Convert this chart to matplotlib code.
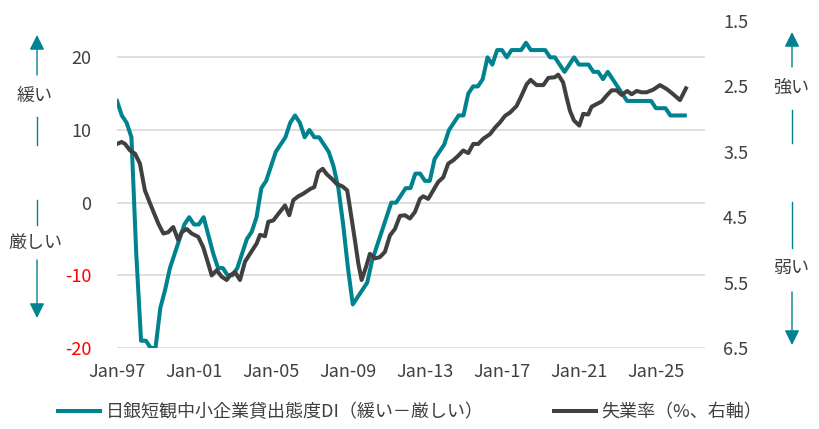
import matplotlib
matplotlib.use("Agg")
import matplotlib.pyplot as plt
import numpy as np
from matplotlib.lines import Line2D

plt.rcParams["font.family"] = ["Noto Sans CJK JP", "DejaVu Sans"]
plt.rcParams["font.size"] = 13

TEAL, GREY, TXT = "#00838f", "#404040", "#404040"

# Tankan small-firm lending attitude DI, quarterly from Q1-1997
di_start = 1997.0
di_values = [14, 12, 11, 9, -7, -19, -19, -20, -20, -14.5, -12, -9, -7, -5, -3, -2,
             -3, -3, -2, -4.5, -7, -9, -9, -10, -10, -9, -7, -5, -4, -2, 2, 3,
             5, 7, 8, 9, 11, 12, 11, 9, 10, 9, 9, 8, 7, 5, 2, -3,
             -9, -14, -13, -12, -11, -8, -6, -4, -2, 0, 0, 1, 2, 2, 4, 4,
             3, 3, 6, 7, 8, 10, 11, 12, 12, 15, 16, 16, 17, 20, 19, 21,
             21, 20, 21, 21, 21, 22, 21, 21, 21, 21, 20, 20, 19,
             18, 19, 20, 19, 19, 19, 18, 18, 17, 18, 17, 16, 15, 14, 14, 14,
             14, 14, 14, 13, 13, 13, 12, 12, 12, 12]

# unemployment rate (%), read at turning points
ur_dates = [1997.00, 1997.24, 1997.42, 1997.68, 1997.94, 1998.19, 1998.45, 1998.80,
            1999.15, 1999.41, 1999.66, 1999.92, 2000.18, 2000.36, 2000.62, 2000.88,
            2001.22, 2001.48, 2001.74, 2001.92, 2002.18, 2002.44, 2002.70, 2002.87,
            2003.13, 2003.39, 2003.65, 2003.91, 2004.26, 2004.43, 2004.69, 2004.86,
            2005.12, 2005.38, 2005.73, 2005.95, 2006.16, 2006.42, 2006.68, 2007.03,
            2007.25, 2007.46, 2007.69, 2007.89, 2008.15, 2008.41, 2008.72, 2008.96,
            2009.10, 2009.36, 2009.54, 2009.71, 2009.94, 2010.14, 2010.40, 2010.66,
            2010.92, 2011.18, 2011.44, 2011.70, 2011.96, 2012.22, 2012.48, 2012.74,
            2012.91, 2013.17, 2013.43, 2013.69, 2013.95, 2014.21, 2014.47, 2014.73,
            2014.99, 2015.25, 2015.51, 2015.77, 2016.03, 2016.38, 2016.64, 2016.90,
            2017.16, 2017.42, 2017.76, 2018.02, 2018.28, 2018.49, 2018.80, 2019.15,
            2019.41, 2019.75, 2019.92, 2020.18, 2020.36, 2020.53, 2020.74, 2021.02,
            2021.22, 2021.48, 2021.66, 2021.92, 2022.18, 2022.44, 2022.70, 2022.96,
            2023.22, 2023.51, 2023.74, 2024.00, 2024.25, 2024.52, 2024.86, 2025.21,
            2025.56, 2025.90, 2026.25, 2026.56]
ur_values = [3.38, 3.35, 3.38, 3.48, 3.53, 3.68, 4.09, 4.35,
             4.60, 4.75, 4.73, 4.65, 4.85, 4.73, 4.68, 4.75,
             4.80, 4.96, 5.21, 5.39, 5.31, 5.41, 5.46, 5.39,
             5.34, 5.46, 5.18, 5.06, 4.90, 4.77, 4.79, 4.57,
             4.55, 4.45, 4.32, 4.47, 4.24, 4.18, 4.14, 4.07,
             4.04, 3.81, 3.76, 3.84, 3.91, 3.99, 4.03, 4.09,
             4.35, 4.85, 5.21, 5.46, 5.26, 5.06, 5.13, 5.11,
             5.03, 4.78, 4.68, 4.48, 4.47, 4.52, 4.42, 4.22,
             4.18, 4.22, 4.09, 3.96, 3.89, 3.68, 3.63, 3.56,
             3.48, 3.52, 3.38, 3.38, 3.30, 3.23, 3.13, 3.05,
             2.95, 2.90, 2.80, 2.64, 2.47, 2.40, 2.48, 2.48,
             2.37, 2.36, 2.32, 2.44, 2.67, 2.87, 3.02, 3.10,
             2.92, 2.93, 2.81, 2.77, 2.73, 2.64, 2.56, 2.56,
             2.63, 2.57, 2.62, 2.57, 2.59, 2.59, 2.55, 2.48,
             2.54, 2.62, 2.71, 2.53]

tick_years = [1997, 2001, 2005, 2009, 2013, 2017, 2021, 2025]
left_ticks = [-20, -10, 0, 10, 20]
right_ticks = [1.5, 2.5, 3.5, 4.5, 5.5, 6.5]

W, H = 820, 429
fig = plt.figure(figsize=(W / 100, H / 100), dpi=100)
ax = fig.add_axes([117 / W, 1 - 348 / H, (705 - 117) / W, (348 - 21) / H])
ax2 = ax.twinx()

di_x = di_start + 0.25 * np.arange(len(di_values))
ax.plot(di_x, di_values, color=TEAL, lw=2.9, solid_joinstyle="round")
ax2.plot(ur_dates, ur_values, color=GREY, lw=2.9, solid_joinstyle="round")

ax.set_xlim(1997.0, 2027.55)
ax.set_ylim(-20, 25)
ax2.set_ylim(6.5, 1.5)

ax.set_yticks(left_ticks)
ax.set_yticklabels([str(v) for v in left_ticks])
for lab, v in zip(ax.get_yticklabels(), left_ticks):
    lab.set_color("#ff0000" if v < 0 else TXT)
ax2.set_yticks(right_ticks)
ax2.set_yticklabels([f"{v:.1f}" for v in right_ticks], color=TXT)
ax.set_xticks(tick_years)
ax.set_xticklabels([f"Jan-{y % 100:02d}" for y in tick_years], color=TXT)

# pads are in points (px * 0.72)
ax.tick_params(axis="y", length=0, pad=18.5)
ax2.tick_params(axis="y", length=0, pad=13)
ax.tick_params(axis="x", length=0, pad=11)
ax.grid(axis="y", color="#d9d9d9", lw=1.2)
ax.set_axisbelow(True)
for a in (ax, ax2):
    for s in a.spines.values():
        s.set_visible(False)


def fx(px):
    return px / W


def fy(py):
    return 1 - py / H


def arrow(x, y_tail, y_tip):
    ax.annotate("", xy=(fx(x), fy(y_tip)), xytext=(fx(x), fy(y_tail)),
                xycoords="figure fraction", textcoords="figure fraction",
                arrowprops=dict(arrowstyle="-|>,head_length=0.6,head_width=0.3",
                                mutation_scale=15, color=TEAL, lw=1.0,
                                shrinkA=0, shrinkB=0))


def seg(x, y0, y1):
    fig.add_artist(Line2D([fx(x), fx(x)], [fy(y0), fy(y1)], color=TEAL, lw=1.0))


# left side: easing / tightening
arrow(37, 75, 35)
fig.text(fx(35), fy(96), "緩い", ha="center", va="center", color=TXT)
seg(37, 117, 145)
seg(37, 200, 225)
fig.text(fx(35), fy(243), "厳しい", ha="center", va="center", color=TXT)
arrow(37, 260, 318)

# right side: strong / weak labour market
arrow(792, 67, 32)
fig.text(fx(791), fy(88), "強い", ha="center", va="center", color=TXT)
seg(792, 110, 143)
seg(792, 202, 248)
fig.text(fx(791), fy(268), "弱い", ha="center", va="center", color=TXT)
arrow(792, 292, 345)

handles = [Line2D([], [], color=TEAL, lw=2.9), Line2D([], [], color=GREY, lw=2.9)]
labels = ["日銀短観中小企業貸出態度DI（緩い－厳しい）", "失業率（%、右軸）"]
fig.legend(handles, labels, loc="center left", bbox_to_anchor=(fx(58), fy(412)),
           ncol=2, frameon=False, borderpad=0, borderaxespad=0,
           handlelength=2.33, handletextpad=0.3, columnspacing=3.9,
           labelcolor=TXT)

fig.savefig("out.png", dpi=100, facecolor="white")
